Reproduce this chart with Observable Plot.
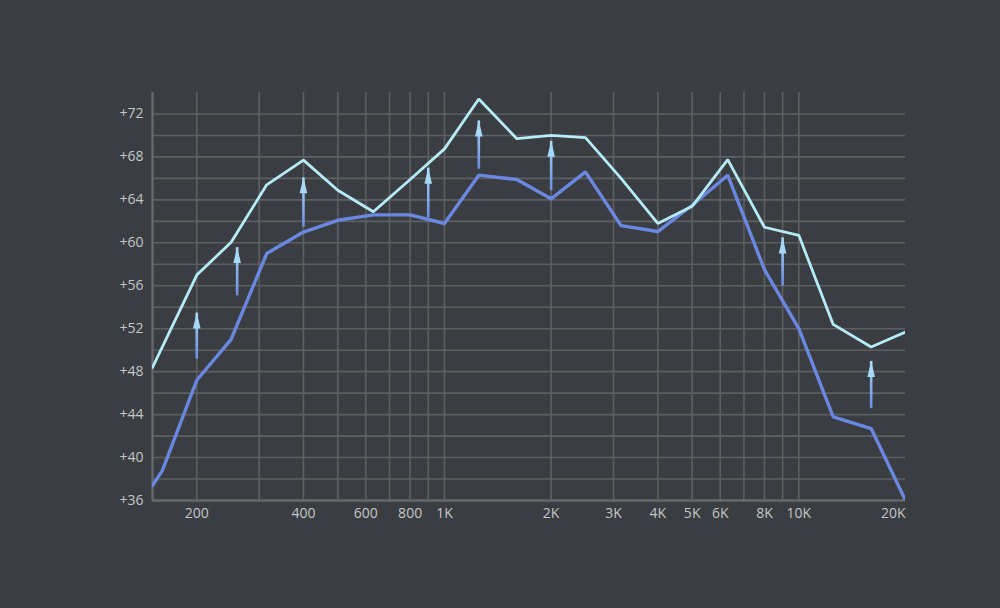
<!DOCTYPE html>
<html>
<head>
<meta charset="utf-8">
<script src="https://cdn.jsdelivr.net/npm/d3@7"></script>
<script src="https://cdn.jsdelivr.net/npm/@observablehq/plot@0.6"></script>
<style>
  html, body { margin: 0; padding: 0; background: #3a3d41; }
  #chart { width: 1000px; height: 608px; }
</style>
</head>
<body>
<div id="chart"></div>
<script>
// Frequency points (Hz)
const freqsBefore = [150, 160, 200, 250, 315, 400, 500, 630, 800, 1000, 1250, 1600, 2000, 2500, 3150, 4000, 5000, 6300, 8000, 10000, 12500, 16000, 20000];
const levelsBefore = [37.4, 38.8, 47.2, 51.0, 59.0, 61.0, 62.1, 62.6, 62.6, 61.8, 66.3, 65.9, 64.1, 66.6, 61.6, 61.05, 63.5, 66.3, 57.5, 52.0, 43.8, 42.7, 36.0];

const freqsAfter = [150, 200, 250, 315, 400, 500, 630, 800, 1000, 1250, 1600, 2000, 2500, 3150, 4000, 5000, 6300, 8000, 10000, 12500, 16000, 20000];
const levelsAfter = [48.4, 57.0, 60.05, 65.4, 67.7, 64.9, 62.9, 65.9, 68.75, 73.4, 69.7, 70.0, 69.8, 66.0, 61.8, 63.4, 67.75, 61.45, 60.7, 52.4, 50.3, 51.7];

// Boost arrows
const arrowFreqs = [200, 260, 400, 900, 1250, 2000, 9000, 16000];
const arrowFrom = [49.2, 55.1, 61.5, 62.4, 66.9, 64.9, 56.0, 44.6];
const arrowTo = [53.5, 59.6, 66.1, 67.0, 71.4, 69.5, 60.5, 49.0];

// Axes / grid
const gridFreqs = [200, 300, 400, 500, 600, 700, 800, 900, 1000, 2000, 3000, 4000, 5000, 6000, 7000, 8000, 9000, 10000];
const gridLevels = [38, 40, 42, 44, 46, 48, 50, 52, 54, 56, 58, 60, 62, 64, 66, 68, 70, 72];
const xTickValues = [200, 400, 600, 800, 1000, 2000, 3000, 4000, 5000, 6000, 8000, 10000, 20000];
const xTickLabels = ["200", "400", "600", "800", "1K", "2K", "3K", "4K", "5K", "6K", "8K", "10K", "20K"];
const yTickValues = [36, 40, 44, 48, 52, 56, 60, 64, 68, 72];
const yTickLabels = ["+36", "+40", "+44", "+48", "+52", "+56", "+60", "+64", "+68", "+72"];

const xMin = 150, xMax = 20000, yMin = 36, yMax = 74;

const before = freqsBefore.map((f, i) => ({f, v: levelsBefore[i]}));
const after = freqsAfter.map((f, i) => ({f, v: levelsAfter[i]}));
const arrows = arrowFreqs.map((f, i) => ({f, y1: arrowFrom[i], y2: arrowTo[i]}));
const xTicks = xTickValues.map((v, i) => ({v, label: xTickLabels[i]}));
const yTicks = yTickValues.map((v, i) => ({v, label: yTickLabels[i]}));

const headSymbol = {
  draw(ctx) {
    ctx.moveTo(0, 0);
    ctx.lineTo(3.8, 16);
    ctx.lineTo(-3.8, 16);
    ctx.closePath();
  }
};

const gridColor = "#5d6063";
const textColor = "#c4c6c8";

const chart = Plot.plot({
  width: 1000,
  height: 608,
  marginLeft: 152,
  marginRight: 95,
  marginTop: 92,
  marginBottom: 108,
  style: {background: "#3a3d41", fontFamily: "'Open Sans', 'Noto Sans', sans-serif", fontSize: "14px", color: textColor},
  x: {type: "log", domain: [xMin, xMax], axis: null},
  y: {domain: [yMin, yMax], axis: null},
  marks: [
    Plot.ruleY(gridLevels, {x1: xMin, x2: xMax, stroke: gridColor, strokeWidth: 1.6}),
    Plot.ruleX(gridFreqs, {y1: yMin, y2: yMax, stroke: gridColor, strokeWidth: 1.6}),
    Plot.ruleX([xMin], {y1: yMin, y2: yMax, stroke: "#67696c", strokeWidth: 2.4}),
    Plot.ruleY([yMin], {x1: xMin, x2: xMax, stroke: "#67696c", strokeWidth: 2.4}),
    Plot.text(yTicks, {x: xMin, y: "v", text: "label", dx: -9, textAnchor: "end", fill: textColor, fontSize: 14}),
    Plot.text(xTicks.filter(d => d.v < xMax), {x: "v", y: yMin, text: "label", dy: 13, fill: textColor, fontSize: 14}),
    Plot.text(xTicks.filter(d => d.v >= xMax), {x: "v", y: yMin, text: "label", dy: 13, textAnchor: "end", fill: textColor, fontSize: 14}),
    Plot.line(before, {x: "f", y: "v", stroke: "#6a88e2", strokeWidth: 3.4, strokeLinejoin: "miter", clip: true}),
    Plot.line(after, {x: "f", y: "v", stroke: "#b6ecf7", strokeWidth: 2.8, strokeLinejoin: "miter", clip: true}),
    Plot.link(arrows, {x1: "f", x2: "f", y1: "y1", y2: "y2", stroke: "#8db8ee", strokeWidth: 2.6}),
    Plot.dot(arrows, {x: "f", y: "y2", symbol: headSymbol, fill: "#a7d9f7", stroke: "none", r: 5})
  ]
});

// Vertical gradient on each arrow shaft (light top, blue bottom)
const svgNS = "http://www.w3.org/2000/svg";
const svg = chart.tagName.toLowerCase() === "svg" ? chart : chart.querySelector("svg");
const defs = document.createElementNS(svgNS, "defs");
svg.insertBefore(defs, svg.firstChild);
const xs = chart.scale("x"), ys = chart.scale("y");
const links = svg.querySelectorAll('g[aria-label="link"] path');
links.forEach((p, i) => {
  const a = arrows[i];
  if (!a) return;
  const g = document.createElementNS(svgNS, "linearGradient");
  g.setAttribute("id", "shaft" + i);
  g.setAttribute("gradientUnits", "userSpaceOnUse");
  const px = xs.apply(a.f);
  g.setAttribute("x1", px); g.setAttribute("x2", px);
  g.setAttribute("y1", ys.apply(a.y2)); g.setAttribute("y2", ys.apply(a.y1));
  const s1 = document.createElementNS(svgNS, "stop");
  s1.setAttribute("offset", "0"); s1.setAttribute("stop-color", "#a7d9f7");
  const s2 = document.createElementNS(svgNS, "stop");
  s2.setAttribute("offset", "1"); s2.setAttribute("stop-color", "#6d8ce2");
  g.appendChild(s1); g.appendChild(s2);
  defs.appendChild(g);
  p.setAttribute("stroke", "url(#shaft" + i + ")");
});

document.getElementById("chart").appendChild(chart);
</script>
</body>
</html>
